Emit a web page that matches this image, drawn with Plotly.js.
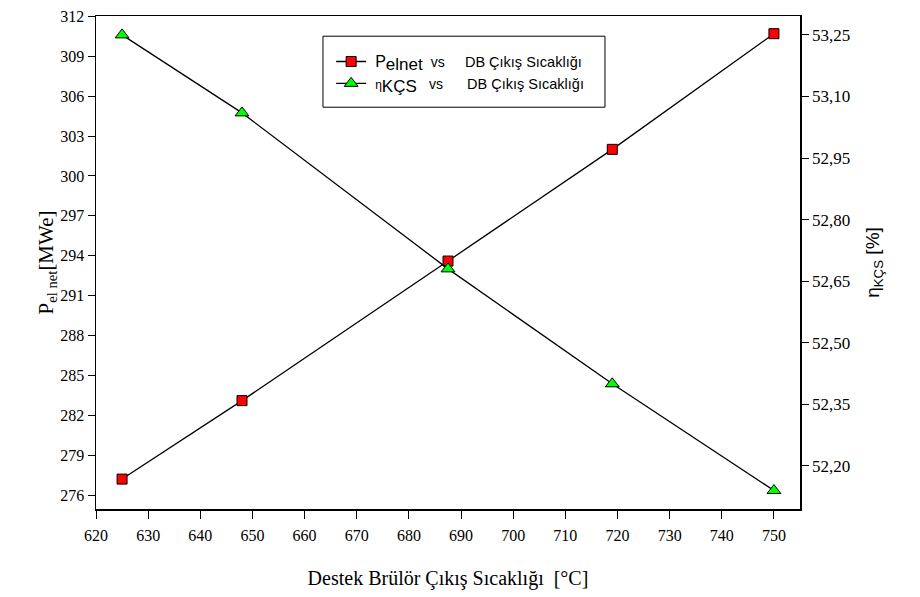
<!DOCTYPE html>
<html>
<head>
<meta charset="utf-8">
<script src="https://cdn.plot.ly/plotly-3.0.1.min.js"></script>
<style>body{margin:0;background:#fff}#chart{width:920px;height:597px}</style>
</head>
<body>
<div id="chart"></div>
<script>
const temps = [625, 648, 687.5, 719, 750];
const pElNet = [277.2, 283.1, 293.6, 302.0, 310.7];
const etaKCS = [53.25, 53.06, 52.68, 52.40, 52.14];
const leftTicks = [276, 279, 282, 285, 288, 291, 294, 297, 300, 303, 306, 309, 312];
const rightTicks = [52.20, 52.35, 52.50, 52.65, 52.80, 52.95, 53.10, 53.25];
const xTicks = [620, 630, 640, 650, 660, 670, 680, 690, 700, 710, 720, 730, 740, 750];

const serif = 'Liberation Serif, Times New Roman, serif';
const sans = 'Liberation Sans, Arial, sans-serif';

const traces = [
  {
    x: temps, y: pElNet, type: 'scatter', mode: 'lines+markers', legendgroup: 'a',
    name: '&nbsp;<span style="font-size:16px">P</span><sub><span style="font-size:17px">elnet</span></sub>&nbsp;&nbsp;<span style="font-size:14px">vs</span>&nbsp;&nbsp;&nbsp;&nbsp;&nbsp;DB Çıkış Sıcaklığı',
    line: {color: '#000', width: 1.3},
    marker: {symbol: 'square', size: 10, color: '#ff0000', line: {color: '#000', width: 1}},
    yaxis: 'y'
  },
  {
    x: temps, y: etaKCS, type: 'scatter', mode: 'lines+markers', legendgroup: 'b',
    name: '&nbsp;<span style="font-size:12px">η</span><sub><span style="font-size:17px">KÇS</span></sub>&nbsp;&nbsp;&nbsp;<span style="font-size:14px">vs</span>&nbsp;&nbsp;&nbsp;&nbsp;&nbsp;&nbsp;DB Çıkış Sıcaklığı',
    line: {color: '#000', width: 1.3},
    marker: {symbol: 'triangle-up', size: 12, color: '#00ff00', line: {color: '#000', width: 1}},
    yaxis: 'y2'
  }
];

const layout = {
  width: 920, height: 597,
  margin: {l: 96, r: 120, t: 16, b: 88},
  paper_bgcolor: '#fff', plot_bgcolor: '#fff',
  separators: ',.',
  showlegend: true,
  legend: {
    x: 0.334, y: 0.94, xanchor: 'left', yanchor: 'top',
    borderwidth: 0, bgcolor: 'rgba(0,0,0,0)',
    font: {family: sans, size: 14.5, color: '#000'},
    tracegroupgap: 0
  },
  shapes: [
    {type: 'rect', xref: 'paper', yref: 'paper', x0: 0.3224, x1: 0.723, y0: 0.815, y1: 0.959,
     line: {color: '#000', width: 1}, fillcolor: 'rgba(0,0,0,0)', layer: 'below'}
  ],
  xaxis: {
    range: [620, 755], tickvals: xTicks, ticks: 'outside', ticklen: 8, tickwidth: 1,
    tickcolor: '#000', showline: true, linecolor: '#000', linewidth: 1.5, mirror: true,
    showgrid: false, zeroline: false, ticklabelstandoff: 3,
    tickfont: {family: serif, size: 16, color: '#000'},
    title: {text: 'Destek Brülör Çıkış Sıcaklığı  [°C]', font: {family: serif, size: 20, color: '#000'}, standoff: 28}
  },
  yaxis: {
    range: [274.95, 312.03], tickvals: leftTicks, ticks: 'outside', ticklen: 7, tickwidth: 1,
    tickcolor: '#000', showline: true, linecolor: '#000', linewidth: 1.5,
    showgrid: false, zeroline: false,
    tickfont: {family: serif, size: 16, color: '#000'},
    title: {text: 'P<sub>el net</sub>[MWe]', font: {family: serif, size: 21, color: '#000'}, standoff: 0}
  },
  yaxis2: {
    range: [52.095, 53.296], tickvals: rightTicks, tickformat: '.2f', overlaying: 'y', side: 'right',
    ticks: 'outside', ticklen: 7, tickwidth: 1, tickcolor: '#000',
    showline: true, linecolor: '#000', linewidth: 1.5,
    showgrid: false, zeroline: false,
    tickfont: {family: serif, size: 17, color: '#000'},
    title: {text: 'η<sub>KÇS</sub> [%]', font: {family: sans, size: 19, color: '#000'}, standoff: 16}
  }
};

Plotly.newPlot('chart', traces, layout, {displayModeBar: false, staticPlot: true});
</script>
</body>
</html>
